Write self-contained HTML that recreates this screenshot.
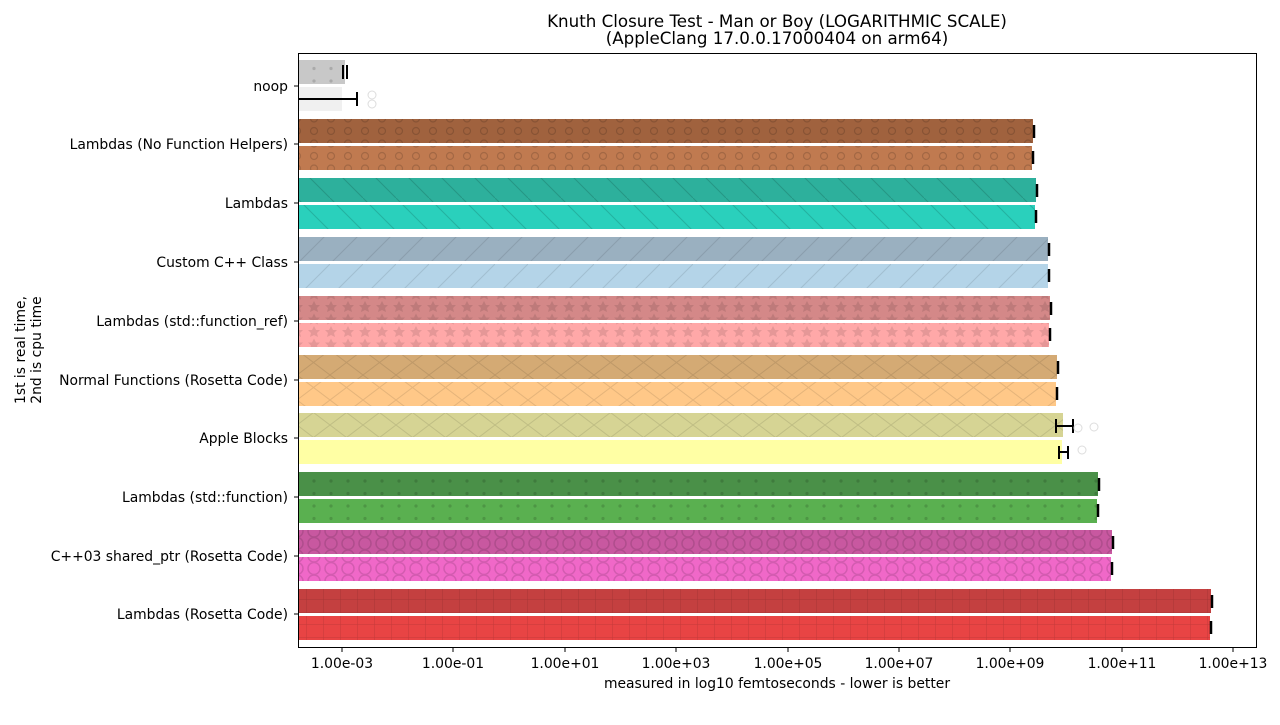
<!DOCTYPE html>
<html><head><meta charset="utf-8"><style>
body{margin:0;background:#fff;}
svg text{font-family:"DejaVu Sans","Liberation Sans",sans-serif;fill:#000;}
</style></head><body>
<svg width="1280" height="720" xmlns="http://www.w3.org/2000/svg">
<defs>
<pattern id="dots" width="17" height="12.5" patternUnits="userSpaceOnUse"><circle cx="8" cy="6" r="1.6" fill="#000" opacity="0.15"/></pattern>
<pattern id="circ" width="17" height="12.5" patternUnits="userSpaceOnUse"><circle cx="8" cy="6" r="3.5" fill="none" stroke="#000" stroke-width="1.2" opacity="0.15"/></pattern>
<pattern id="bs" width="33" height="33" patternUnits="userSpaceOnUse"><path d="M0 0L33 33" stroke="#000" stroke-width="1" opacity="0.15"/></pattern>
<pattern id="fs" width="33" height="33" patternUnits="userSpaceOnUse"><path d="M0 33L33 0" stroke="#000" stroke-width="1" opacity="0.1"/></pattern>
<pattern id="x" width="33" height="25" patternUnits="userSpaceOnUse"><path d="M0 0L33 25M0 25L33 0" stroke="#000" stroke-width="1" opacity="0.1"/></pattern>
<pattern id="star" width="17" height="12.5" patternUnits="userSpaceOnUse"><polygon points="8,1 10,5 14,5 11,8 12,12 8,10 4,12 5,8 2,5 6,5" fill="#000" opacity="0.1"/></pattern>
<pattern id="bigc" width="17" height="12.5" patternUnits="userSpaceOnUse"><circle cx="8" cy="6" r="6" fill="none" stroke="#000" stroke-width="1.5" opacity="0.12"/></pattern>
<pattern id="grid" width="17" height="12.5" patternUnits="userSpaceOnUse"><path d="M0 0V12.5M0 12.5H17" stroke="#000" stroke-width="1" opacity="0.15"/></pattern>
</defs>
<text x="777" y="27" font-size="16.7" text-anchor="middle">Knuth Closure Test - Man or Boy (LOGARITHMIC SCALE)</text>
<text x="777" y="44" font-size="16.7" text-anchor="middle">(AppleClang 17.0.0.17000404 on arm64)</text>
<g id="bars">
<rect x="298" y="60" width="47" height="24" fill="#c8c8c8"/><rect x="298" y="60" width="47" height="24" fill="url(#dots)"/>
<rect x="298" y="87" width="44" height="24" fill="#f0f0f0"/>
<line x1="298" y1="99" x2="357" y2="99" stroke="#000" stroke-width="2"/><line x1="357" y1="92" x2="357" y2="106" stroke="#000" stroke-width="2"/>
<line x1="343" y1="65" x2="343" y2="79" stroke="#000" stroke-width="2"/><line x1="347" y1="65" x2="347" y2="79" stroke="#000" stroke-width="2"/>
<circle cx="372" cy="95" r="4" fill="none" stroke="#ddd"/><circle cx="372" cy="104" r="4" fill="none" stroke="#ddd"/>
<rect x="298" y="119" width="735" height="24" fill="#a0623e"/><rect x="298" y="119" width="735" height="24" fill="url(#circ)"/>
<rect x="298" y="146" width="734" height="24" fill="#c07a50"/><rect x="298" y="146" width="734" height="24" fill="url(#circ)"/>
<rect x="298" y="178" width="738" height="24" fill="#2db09c"/><rect x="298" y="178" width="738" height="24" fill="url(#bs)"/>
<rect x="298" y="205" width="737" height="24" fill="#2ad0bc"/><rect x="298" y="205" width="737" height="24" fill="url(#bs)"/>
<rect x="298" y="237" width="750" height="24" fill="#9ab0c0"/><rect x="298" y="237" width="750" height="24" fill="url(#fs)"/>
<rect x="298" y="264" width="750" height="24" fill="#b4d4e8"/><rect x="298" y="264" width="750" height="24" fill="url(#fs)"/>
<rect x="298" y="296" width="752" height="24" fill="#d48888"/><rect x="298" y="296" width="752" height="24" fill="url(#star)"/>
<rect x="298" y="323" width="751" height="24" fill="#ffa8a8"/><rect x="298" y="323" width="751" height="24" fill="url(#star)"/>
<rect x="298" y="355" width="759" height="24" fill="#d4aa74"/><rect x="298" y="355" width="759" height="24" fill="url(#x)"/>
<rect x="298" y="382" width="758" height="24" fill="#ffc888"/><rect x="298" y="382" width="758" height="24" fill="url(#x)"/>
<rect x="298" y="413" width="765" height="24" fill="#d6d494"/><rect x="298" y="413" width="765" height="24" fill="url(#x)"/>
<rect x="298" y="440" width="764" height="24" fill="#ffffa4"/>
<line x1="1056" y1="426" x2="1073" y2="426" stroke="#000" stroke-width="2"/><line x1="1056" y1="419" x2="1056" y2="433" stroke="#000" stroke-width="2"/><line x1="1073" y1="419" x2="1073" y2="433" stroke="#000" stroke-width="2"/>
<line x1="1059" y1="452" x2="1068" y2="452" stroke="#000" stroke-width="2"/><line x1="1059" y1="446" x2="1059" y2="459" stroke="#000" stroke-width="2"/><line x1="1068" y1="446" x2="1068" y2="459" stroke="#000" stroke-width="2"/>
<circle cx="1078" cy="428" r="4" fill="none" stroke="#ddd"/><circle cx="1094" cy="427" r="4" fill="none" stroke="#ddd"/><circle cx="1082" cy="450" r="4" fill="none" stroke="#ddd"/>
<rect x="298" y="472" width="800" height="24" fill="#4a9048"/><rect x="298" y="472" width="800" height="24" fill="url(#dots)"/>
<rect x="298" y="499" width="799" height="24" fill="#5ab050"/><rect x="298" y="499" width="799" height="24" fill="url(#dots)"/>
<rect x="298" y="530" width="814" height="24" fill="#c858a0"/><rect x="298" y="530" width="814" height="24" fill="url(#bigc)"/>
<rect x="298" y="557" width="813" height="24" fill="#f068c8"/><rect x="298" y="557" width="813" height="24" fill="url(#bigc)"/>
<rect x="298" y="589" width="913" height="24" fill="#c44040"/><rect x="298" y="589" width="913" height="24" fill="url(#grid)"/>
<rect x="298" y="616" width="912" height="24" fill="#e84444"/><rect x="298" y="616" width="912" height="24" fill="url(#grid)"/>
</g>
<g stroke="#000" stroke-width="2.5">
<line x1="1034" y1="125" x2="1034" y2="138"/><line x1="1033" y1="151" x2="1033" y2="164"/>
<line x1="1037" y1="184" x2="1037" y2="197"/><line x1="1036" y1="210" x2="1036" y2="223"/>
<line x1="1049" y1="243" x2="1049" y2="256"/><line x1="1049" y1="269" x2="1049" y2="282"/>
<line x1="1051" y1="302" x2="1051" y2="315"/><line x1="1050" y1="328" x2="1050" y2="341"/>
<line x1="1058" y1="361" x2="1058" y2="374"/><line x1="1057" y1="387" x2="1057" y2="400"/>
<line x1="1099" y1="478" x2="1099" y2="491"/><line x1="1098" y1="504" x2="1098" y2="517"/>
<line x1="1113" y1="536" x2="1113" y2="549"/><line x1="1112" y1="562" x2="1112" y2="575"/>
<line x1="1212" y1="595" x2="1212" y2="608"/><line x1="1211" y1="621" x2="1211" y2="634"/>
</g>
<rect x="298.5" y="53.5" width="958" height="594" fill="none" stroke="#000" stroke-width="1"/>
<g font-size="13.9" text-anchor="end">
<text x="288" y="91">noop</text>
<text x="288" y="149">Lambdas (No Function Helpers)</text>
<text x="288" y="208">Lambdas</text>
<text x="288" y="267">Custom C++ Class</text>
<text x="288" y="326">Lambdas (std::function_ref)</text>
<text x="288" y="385">Normal Functions (Rosetta Code)</text>
<text x="288" y="443">Apple Blocks</text>
<text x="288" y="502">Lambdas (std::function)</text>
<text x="288" y="561">C++03 shared_ptr (Rosetta Code)</text>
<text x="288" y="619">Lambdas (Rosetta Code)</text>
</g>
<g stroke="#000">
<line x1="294" y1="86" x2="298" y2="86"/><line x1="294" y1="144" x2="298" y2="144"/><line x1="294" y1="203" x2="298" y2="203"/><line x1="294" y1="262" x2="298" y2="262"/><line x1="294" y1="321" x2="298" y2="321"/><line x1="294" y1="380" x2="298" y2="380"/><line x1="294" y1="438" x2="298" y2="438"/><line x1="294" y1="497" x2="298" y2="497"/><line x1="294" y1="556" x2="298" y2="556"/><line x1="294" y1="614" x2="298" y2="614"/>
<line x1="342" y1="648" x2="342" y2="652"/><line x1="453" y1="648" x2="453" y2="652"/><line x1="565" y1="648" x2="565" y2="652"/><line x1="676" y1="648" x2="676" y2="652"/><line x1="788" y1="648" x2="788" y2="652"/><line x1="899" y1="648" x2="899" y2="652"/><line x1="1010" y1="648" x2="1010" y2="652"/><line x1="1122" y1="648" x2="1122" y2="652"/><line x1="1233" y1="648" x2="1233" y2="652"/>
</g>
<g font-size="13.9" text-anchor="middle">
<text x="342" y="668">1.00e-03</text><text x="453" y="668">1.00e-01</text><text x="565" y="668">1.00e+01</text><text x="676" y="668">1.00e+03</text><text x="788" y="668">1.00e+05</text><text x="899" y="668">1.00e+07</text><text x="1010" y="668">1.00e+09</text><text x="1122" y="668">1.00e+11</text><text x="1233" y="668">1.00e+13</text>
<text x="777" y="688">measured in log10 femtoseconds - lower is better</text>
</g>
<g font-size="13.9" text-anchor="middle">
<text transform="translate(25,350) rotate(-90)">1st is real time,</text>
<text transform="translate(41,350) rotate(-90)">2nd is cpu time</text>
</g>
</svg>
</body></html>
